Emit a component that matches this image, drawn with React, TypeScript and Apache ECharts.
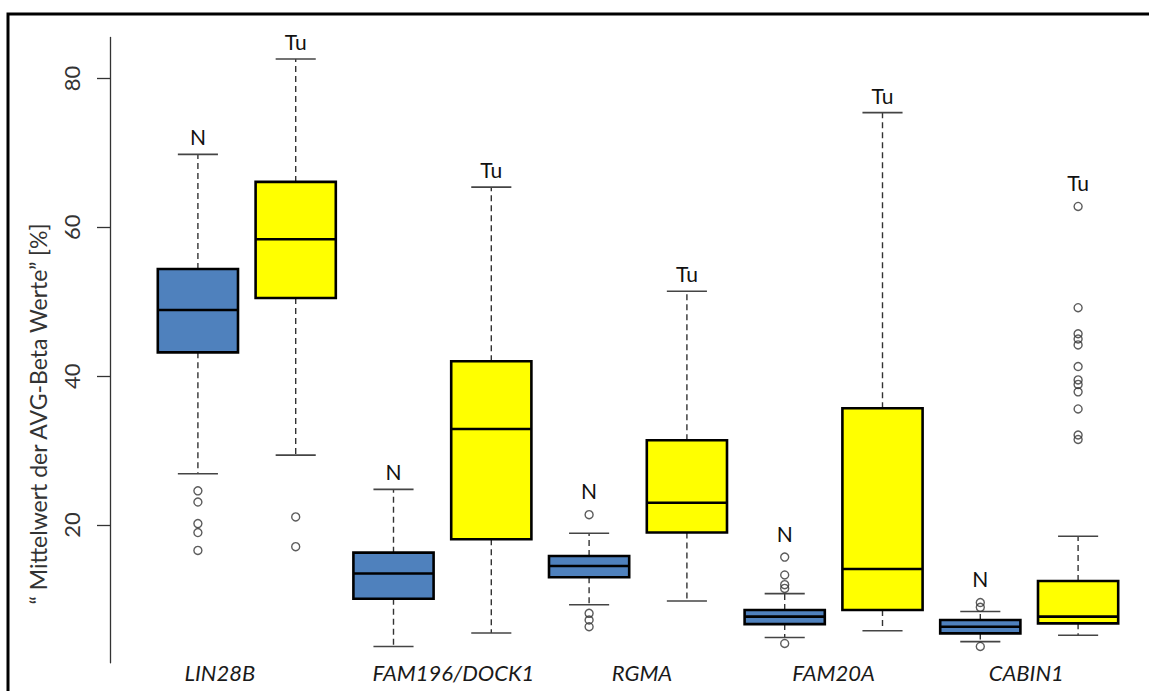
import React, { useEffect, useRef } from 'react';
import * as echarts from 'echarts';

// ---- data ----
const genes = ['LIN28B', 'FAM196/DOCK1', 'RGMA', 'FAM20A', 'CABIN1'];
const groups = ['N', 'Tu'];
const yTicks = [20, 40, 60, 80];
const yTitle = '\u201C Mittelwert der AVG-Beta Werte\u201D [%]';

// N (normal tissue) box statistics
const nLow = [26.9, 3.7, 9.3, 4.9, 4.35];
const nQ1 = [43.2, 10.1, 13.0, 6.7, 5.45];
const nMed = [48.9, 13.5, 14.5, 7.7, 6.35];
const nQ3 = [54.4, 16.3, 15.85, 8.6, 7.25];
const nHigh = [69.8, 24.8, 18.9, 10.8, 8.4];

// Tu (tumour) box statistics
const tuLow = [29.4, 5.5, 9.8, 5.8, 5.2];
const tuQ1 = [50.5, 18.1, 19.0, 8.6, 6.8];
const tuMed = [58.4, 32.9, 23.0, 14.1, 7.7];
const tuQ3 = [66.1, 42.0, 31.4, 35.7, 12.5];
const tuHigh = [82.6, 65.4, 51.4, 75.4, 18.5];

// outliers per gene
const nOutliers = [
  [24.6, 23.1, 20.2, 19.0, 16.6],
  [],
  [21.4, 8.15, 7.25, 6.35],
  [15.7, 13.3, 12.0, 11.5, 4.1],
  [9.6, 8.95, 3.7],
];
const tuOutliers = [
  [21.1, 17.1],
  [],
  [],
  [],
  [62.8, 49.2, 45.7, 45.0, 44.2, 41.3, 39.5, 38.9, 37.9, 35.6, 32.1, 31.5],
];

// styling
const groupColors = ['#4F81BD', '#FFFF00'];
const labelNudge = [-27, 11, 4, 0, -3]; // horizontal nudge (px) of the gene labels

export default function App() {
  const ref = useRef<HTMLDivElement>(null);

  useEffect(() => {
    document.body.style.margin = '0';
    const chart = echarts.init(ref.current!, null, { renderer: 'svg' });

    const slots: string[] = [];
    const boxData: number[][] = [];
    const boxMeta: { group: number; topOutlier: boolean }[] = [];
    const outlierData: number[][] = [];

    genes.forEach((g, i) => {
      groups.forEach((grp, j) => {
        const idx = i * 2 + j;
        slots.push(g + ' ' + grp);
        const st = j === 0
          ? [nLow[i], nQ1[i], nMed[i], nQ3[i], nHigh[i]]
          : [tuLow[i], tuQ1[i], tuMed[i], tuQ3[i], tuHigh[i]];
        const outs = j === 0 ? nOutliers[i] : tuOutliers[i];
        const maxOut = outs.length ? Math.max(...outs) : -Infinity;
        const top = Math.max(st[4], maxOut);
        boxData.push([idx, ...st, top]);
        boxMeta.push({ group: j, topOutlier: maxOut > st[4] });
        outs.forEach((v) => outlierData.push([idx, v]));
      });
    });

    const font = 'Lato, "Open Sans", sans-serif';

    const rich: any = {};
    labelNudge.forEach((d, i) => {
      rich['g' + i] = {
        fontFamily: font,
        fontStyle: 'italic',
        fontSize: 22,
        color: '#1a1a1a',
        padding: d < 0 ? [0, -2 * d, 0, 0] : [0, 0, 0, 2 * d],
      };
    });

    const renderItem = (params: any, api: any) => {
      const idx = api.value(0);
      const low = api.value(1);
      const q1 = api.value(2);
      const med = api.value(3);
      const q3 = api.value(4);
      const high = api.value(5);
      const top = api.value(6);
      const meta = boxMeta[params.dataIndex];
      const x = api.coord([idx, med])[0];
      const y = (v: number) => api.coord([idx, v])[1];
      const bw = api.size([1, 0])[0] * 0.82;
      const sw = bw / 2;
      const whiskerStyle = { stroke: '#333', lineWidth: 1.4, lineDash: [6, 4] };
      const stapleStyle = { stroke: '#444', lineWidth: 1.6 };
      const labelY = y(top) - (meta.topOutlier ? 24 : 17.5);
      return {
        type: 'group',
        children: [
          { type: 'line', shape: { x1: x, y1: y(q3), x2: x, y2: y(high) }, style: whiskerStyle },
          { type: 'line', shape: { x1: x, y1: y(q1), x2: x, y2: y(low) }, style: whiskerStyle },
          { type: 'line', shape: { x1: x - sw / 2, y1: y(high), x2: x + sw / 2, y2: y(high) }, style: stapleStyle },
          { type: 'line', shape: { x1: x - sw / 2, y1: y(low), x2: x + sw / 2, y2: y(low) }, style: stapleStyle },
          {
            type: 'rect',
            shape: { x: x - bw / 2, y: y(q3), width: bw, height: y(q1) - y(q3) },
            style: { fill: groupColors[meta.group], stroke: '#000', lineWidth: 2.6 },
          },
          {
            type: 'line',
            shape: { x1: x - bw / 2, y1: y(med), x2: x + bw / 2, y2: y(med) },
            style: { stroke: '#000', lineWidth: 2.6 },
          },
          {
            type: 'text',
            x,
            y: labelY,
            style: {
              text: groups[meta.group],
              font: '21px ' + font,
              fill: '#111',
              align: 'center',
              verticalAlign: 'middle',
            },
          },
        ],
      };
    };

    const option: any = {
      animation: false,
      backgroundColor: '#fff',
      grid: { left: 149, right: 22, top: 37.45, bottom: 28.17, containLabel: false },
      xAxis: [
        {
          type: 'category',
          data: slots,
          position: 'bottom',
          axisLine: { show: false, onZero: false },
          axisTick: { show: false },
          axisLabel: { show: false },
          splitLine: { show: false },
        },
        {
          type: 'category',
          data: genes,
          position: 'bottom',
          axisLine: { show: false, onZero: false },
          axisTick: { show: false },
          axisLabel: {
            show: true,
            interval: 0,
            fontFamily: font,
            fontStyle: 'italic',
            fontSize: 22,
            color: '#1a1a1a',
            verticalAlign: 'middle',
            margin: 10,
            formatter: (v: string, i: number) => '{g' + i + '|' + v + '}',
            rich,
          },
          splitLine: { show: false },
        },
      ],
      yAxis: {
        type: 'value',
        min: 1.5,
        max: 85.5,
        offset: 39,
        axisLine: { show: true, onZero: false, lineStyle: { color: '#333', width: 1.3 } },
        axisTick: { show: true, length: 13, customValues: yTicks, lineStyle: { color: '#333', width: 1.3 } },
        axisLabel: {
          customValues: yTicks,
          rotate: 90,
          margin: 28,
          fontFamily: font,
          fontSize: 22,
          color: '#333',
        },
        splitLine: { show: false },
      },
      graphic: [
        {
          type: 'rect',
          shape: { x: 8, y: 14, width: 1170, height: 720 },
          style: { fill: 'none', stroke: '#000', lineWidth: 3 },
          silent: true,
        },
        {
          type: 'text',
          x: 38,
          y: 414,
          rotation: Math.PI / 2,
          style: {
            text: yTitle,
            font: '23px ' + font,
            fill: '#333',
            align: 'center',
            verticalAlign: 'middle',
          },
          silent: true,
        },
      ],
      series: [
        {
          type: 'custom',
          xAxisIndex: 0,
          yAxisIndex: 0,
          renderItem,
          data: boxData,
          encode: { x: 0, y: [1, 2, 3, 4, 5, 6] },
          z: 2,
        },
        {
          type: 'scatter',
          xAxisIndex: 0,
          yAxisIndex: 0,
          data: outlierData,
          symbol: 'circle',
          symbolSize: 8,
          itemStyle: { color: 'rgba(0,0,0,0)', borderColor: '#333', borderWidth: 1.4 },
          z: 3,
        },
      ],
    };

    chart.setOption(option);
    return () => chart.dispose();
  }, []);

  return (
    <div
      ref={ref}
      style={{ position: 'fixed', left: 0, top: 0, width: 1149, height: 691, background: '#fff' }}
    />
  );
}
